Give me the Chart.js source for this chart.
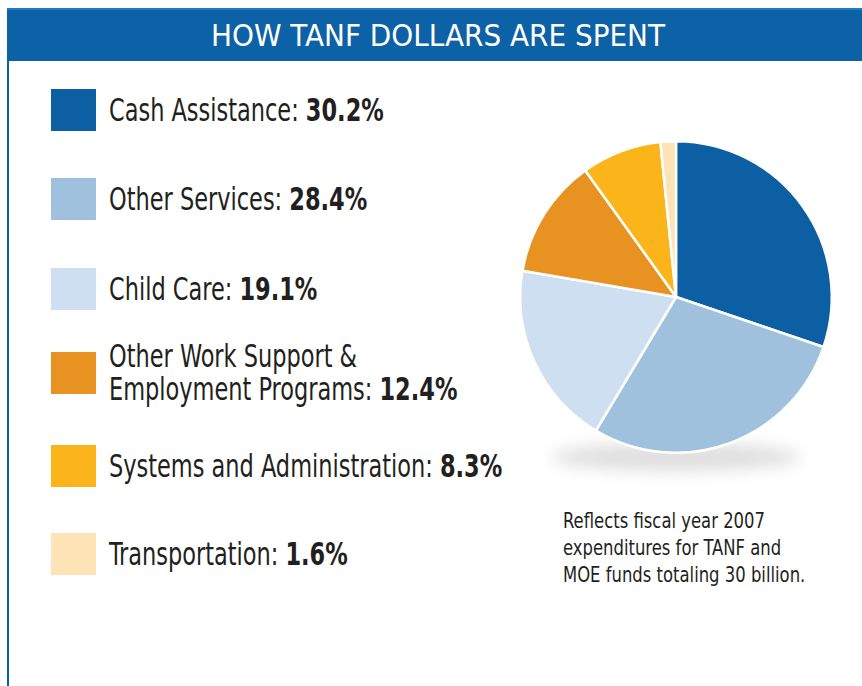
<!DOCTYPE html>
<html>
<head>
<meta charset="utf-8">
<script src="https://cdn.jsdelivr.net/npm/chart.js@4"></script>
<style>
  body { margin: 0; background: #fff; width: 862px; height: 686px; overflow: hidden; position: relative; font-family: "DejaVu Sans Condensed", "DejaVu Sans", sans-serif; font-stretch: condensed; }
  #frame { position: absolute; left: 7px; top: 8px; width: 870px; height: 700px; border-left: 2px solid #0d5fa3; }
  #header { position: absolute; left: 7px; top: 8px; width: 855px; height: 53px; background: #0d61a6; border-top: 2px solid #1b7fc4; box-sizing: border-box; color: #fff; text-align: center; font-size: 31px; line-height: 50px; padding-left: 7px; }
  .row { position: absolute; left: 51px; display: flex; align-items: center; }
  .box { width: 45px; height: 42px; margin-right: 13px; flex: none; }
  .lbl { font-size: 32px; color: #231f20; line-height: 33px; transform-origin: left center; transform: scaleX(0.78); white-space: nowrap; }
  .lbl b { font-weight: bold; }
  #note { position: absolute; left: 563px; top: 508px; font-size: 21px; line-height: 27px; color: #231f20; transform-origin: left top; transform: scaleX(0.87); white-space: nowrap; }
  #wrap { position: absolute; left: 486px; top: 107px; width: 380px; height: 380px; }
</style>
</head>
<body>
<div id="frame"></div>
<div id="header">HOW TANF DOLLARS ARE SPENT</div>
<div id="legend"></div>
<div id="note">Reflects fiscal year 2007<br>expenditures for TANF and<br>MOE funds totaling 30 billion.</div>
<div id="wrap"><canvas id="pie"></canvas></div>
<script>
// Data
const categories = ["Cash Assistance", "Other Services", "Child Care", "Other Work Support & Employment Programs", "Systems and Administration", "Transportation"];
const labelLines = [["Cash Assistance: "], ["Other Services: "], ["Child Care: "], ["Other Work Support &", "Employment Programs: "], ["Systems and Administration: "], ["Transportation: "]];
const shares = [30.2, 28.4, 19.1, 12.4, 8.3, 1.6];
const colors = ["#0d5fa3", "#a0c1dd", "#cddff0", "#e89222", "#fbb51a", "#fde3b5"];
const rowTops = [89, 178, 268, 352, 445, 533];

// Legend (built from the arrays)
const getLegend = document.querySelector("#legend");
let template = "";
categories.forEach((c, i) => {
    const lines = labelLines[i];
    const text = lines.slice(0, -1).map(l => l + "<br>").join("") + lines[lines.length - 1] + "<b>" + shares[i].toFixed(1) + "%</b>";
    template += `<div class="row" style="top:${rowTops[i]}px;height:42px"><div class="box" style="background:${colors[i]}"></div><div class="lbl">${text}</div></div>`;
});
getLegend.innerHTML = template;

// Soft shadow under the pie
const shadowPlugin = {
    id: "shadow",
    beforeDatasetsDraw(chart) {
        const arc = chart.getDatasetMeta(0).data[0];
        if (!arc) return;
        const ctx = chart.ctx;
        ctx.save();
        ctx.filter = "blur(8px)";
        ctx.fillStyle = "rgba(140,140,140,0.28)";
        ctx.beginPath();
        ctx.ellipse(arc.x, arc.y + 160, 125, 14, 0, 0, Math.PI * 2);
        ctx.fill();
        ctx.restore();
    }
};

const canvas2D = document.getElementById("pie").getContext("2d");
new Chart(canvas2D, {
    type: "pie",
    data: {
        labels: categories,
        datasets: [{
            data: shares,
            backgroundColor: colors,
            borderColor: "#ffffff",
            borderWidth: 2.5
        }]
    },
    options: {
        responsive: true,
        maintainAspectRatio: false,
        animation: false,
        layout: { padding: 33 },
        plugins: { legend: { display: false }, tooltip: { enabled: false } }
    },
    plugins: [shadowPlugin]
});
</script>
</body>
</html>
